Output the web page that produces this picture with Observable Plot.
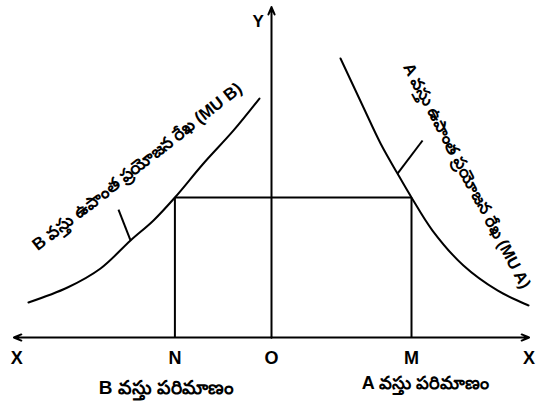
<!DOCTYPE html>
<html>
<head>
<meta charset="utf-8">
<script src="https://cdn.jsdelivr.net/npm/d3@7"></script>
<script src="https://cdn.jsdelivr.net/npm/@observablehq/plot@0.6"></script>
<style>
  html, body { margin: 0; padding: 0; background: #fff; }
  #chart svg { display: block; }
</style>
</head>
<body>
<div id="chart"></div>
<script>
// Marginal utility of good A (right quadrant): quantity, utility
const muAx = [4.93, 6.57, 7.79, 9.0, 10.0, 11.5, 13.71, 16.14, 18.36];
const muAy = [19.93, 16.43, 13.86, 11.71, 10.0, 7.64, 5.14, 3.36, 2.29];
// Marginal utility of good B (left quadrant, quantity measured leftwards)
const muBx = [-17.36, -14.57, -12.21, -10.07, -8.43, -6.9, -4.86, -2.71, -0.86];
const muBy = [2.5, 3.57, 4.93, 6.93, 8.36, 10.0, 12.43, 14.79, 17.07];

// Equilibrium: equal marginal utility, quantities OM of A and ON of B
const qtyM = 10.0;
const qtyN = -6.9;
const equalMU = 10.0;

// Leader lines from the curve labels to the curves
const leaderB = [[-10.07, 6.93], [-10.93, 9.14]];
const leaderA = [[9.0, 11.71], [10.79, 14.07]];

// Axis extents
const xLeftEnd = -18.4;
const xRightEnd = 18.4;
const yTopEnd = 23.6;

// Texts
const curveLabelB = "B వస్తు ఉపాంత ప్రయోజన రేఖ (MU B)";
const curveLabelA = "A వస్తు ఉపాంత ప్రయోజన రేఖ (MU A)";
const pointLabels = ["X", "N", "O", "M", "X"];
const pointLabelX = [xLeftEnd + 0.2, qtyN, 0, qtyM, xRightEnd];
const qtyLabelB = "B వస్తు పరిమాణం";
const qtyLabelA = "A వస్తు పరిమాణం";

const curveA = muAx.map((x, i) => ({x, y: muAy[i]}));
const curveB = muBx.map((x, i) => ({x, y: muBy[i]}));
const font = "'Liberation Sans', Arial, 'Noto Sans', sans-serif";

const chart = Plot.plot({
  width: 539,
  height: 408,
  margin: 0,
  style: {background: "#fff", fontFamily: font},
  x: {domain: [-271 / 14, 268 / 14], axis: null},
  y: {domain: [-71 / 14, 337 / 14], axis: null},
  marks: [
    // axes with arrow heads
    Plot.arrow([{x1: 0, x2: xRightEnd}, {x1: 0, x2: xLeftEnd}], {
      x1: "x1", x2: "x2", y1: 0, y2: 0,
      stroke: "#000", strokeWidth: 2, headLength: 6, headAngle: 45
    }),
    Plot.arrow([{y2: yTopEnd}], {
      x1: 0, x2: 0, y1: 0, y2: "y2",
      stroke: "#000", strokeWidth: 2, headLength: 6, headAngle: 45
    }),
    // equal marginal utility line and quantity drops
    Plot.link([{x1: qtyN, x2: qtyM}], {
      x1: "x1", x2: "x2", y1: equalMU, y2: equalMU,
      stroke: "#000", strokeWidth: 2
    }),
    Plot.link([qtyN, qtyM], {
      x1: d => d, x2: d => d, y1: 0, y2: equalMU,
      stroke: "#000", strokeWidth: 2
    }),
    // marginal utility curves
    Plot.line(curveA, {x: "x", y: "y", curve: "catmull-rom", stroke: "#000", strokeWidth: 2}),
    Plot.line(curveB, {x: "x", y: "y", curve: "catmull-rom", stroke: "#000", strokeWidth: 2}),
    // leader lines
    Plot.link([leaderB, leaderA], {
      x1: d => d[0][0], y1: d => d[0][1], x2: d => d[1][0], y2: d => d[1][1],
      stroke: "#000", strokeWidth: 2
    }),
    // curve labels
    Plot.text([curveLabelB], {
      x: -9.6, y: 12.2, text: d => d, rotate: -38,
      fontSize: 17, fontWeight: "bold", fill: "#000"
    }),
    Plot.text([curveLabelA], {
      x: 13.95, y: 11.55, text: d => d, rotate: 62,
      fontSize: 16.5, fontWeight: "bold", fill: "#000"
    }),
    // axis point labels
    Plot.text(pointLabels, {
      x: (d, i) => pointLabelX[i], y: -1.45, text: d => d,
      fontSize: 18, fontWeight: "bold", fill: "#000"
    }),
    Plot.text(["Y"], {
      x: -0.95, y: 22.6, text: d => d,
      fontSize: 17, fontWeight: "bold", fill: "#000"
    }),
    // quantity labels
    Plot.text([qtyLabelB], {
      x: -7.5, y: -3.6, text: d => d,
      fontSize: 19, fontWeight: "bold", fill: "#000"
    }),
    Plot.text([qtyLabelA], {
      x: 11.0, y: -3.25, text: d => d,
      fontSize: 18, fontWeight: "bold", fill: "#000"
    })
  ]
});

document.getElementById("chart").appendChild(chart);
</script>
</body>
</html>
